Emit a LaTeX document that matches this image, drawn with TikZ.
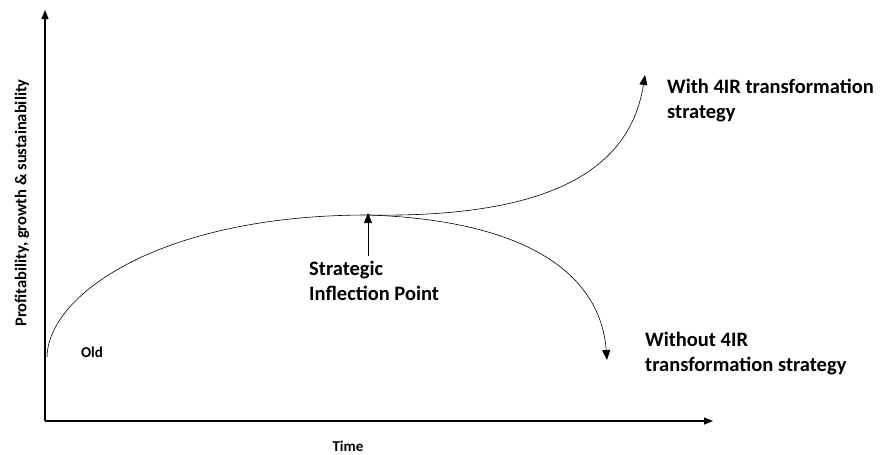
\documentclass[tikz,border=0pt]{standalone}
\usepackage{fontspec}
\setmainfont{Carlito}
\usepackage{tikz}
\usetikzlibrary{arrows.meta}

\begin{document}
\begin{tikzpicture}[
        x=1pt, y=-1pt,
        every node/.style={font=\bfseries, inner sep=0pt},
        axis_line/.style={line width=1.2pt, -{Triangle[length=9pt, width=7pt]}},
        curve_line/.style={line width=0.6pt},
        curve_arrow/.style={line width=0.6pt, -{Triangle[length=10pt, width=8pt]}},
        big_label/.style={font=\fontsize{20.5}{25}\selectfont\bfseries, align=left, anchor=north west},
        small_label/.style={font=\fontsize{15}{18}\selectfont\bfseries}
    ]
    \useasboundingbox (0,0) rectangle (886,455);
    \coordinate (origin) at (45,421);
    \coordinate (y_top) at (45,10);
    \coordinate (x_end) at (713,421);
    \coordinate (old_start) at (47,357);
    \coordinate (sip) at (368,215);
    \coordinate (with_end) at (645,75);
    \coordinate (without_end) at (607,360);
    \coordinate (sip_tail) at (368,256);

    \draw[axis_line] (origin) -- (y_top);
    \draw[axis_line] (origin) -- (x_end);

    \node[small_label, font=\fontsize{16.5}{19}\selectfont\bfseries, rotate=90] (y_label) at (22,203) {Profitability, growth \& sustainability};
    \node[small_label] (x_label) at (348,446) {Time};
    \node[small_label] (old) at (92,352) {Old};

    \draw[curve_line] (old_start) .. controls (48,295) and (160,215) .. (sip);
    \draw[curve_arrow] (sip) .. controls (550,218) and (630,170) .. (with_end);
    \draw[curve_arrow] (sip) .. controls (520,220) and (600,270) .. (without_end);
    \draw[curve_arrow] (sip_tail) -- ([yshift=2pt]sip);

    \node[big_label] (sip_text) at (309,261) {Strategic\\Inflection Point};
    \node[big_label] (with_text) at (667,79) {With 4IR transformation\\strategy};
    \node[big_label] (without_text) at (645,332) {Without 4IR\\transformation strategy};
\end{tikzpicture}
\end{document}
